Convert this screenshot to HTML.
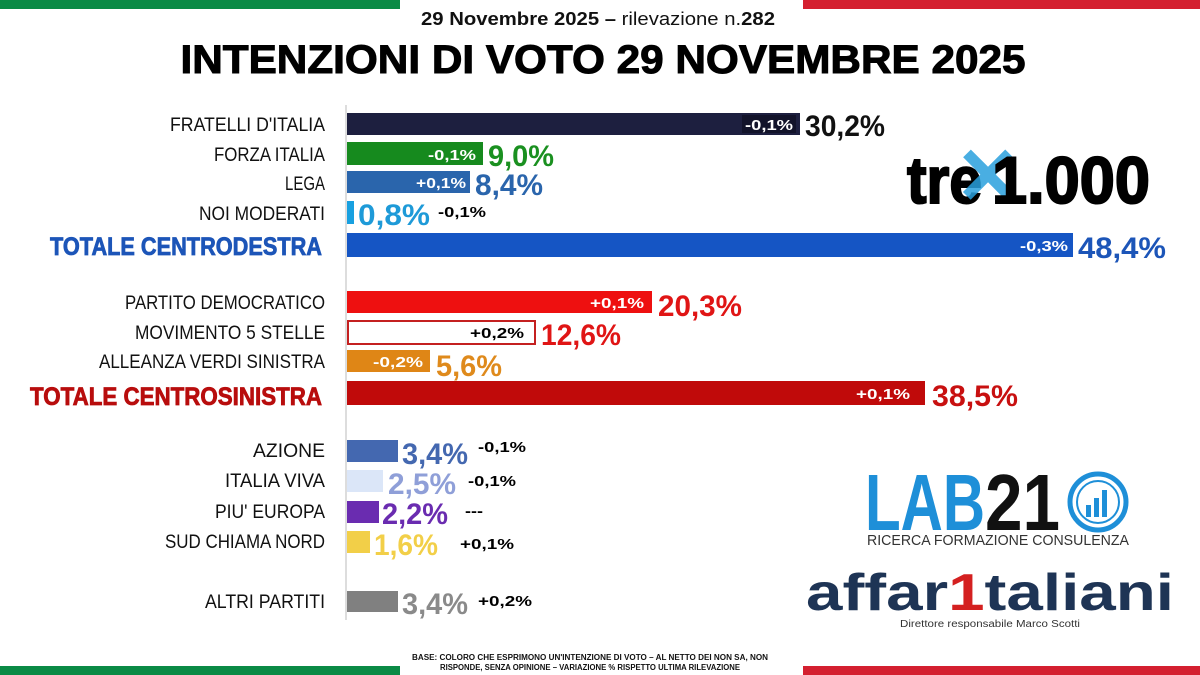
<!DOCTYPE html>
<html><head><meta charset="utf-8"><style>
html,body{margin:0;padding:0;background:#fff;width:1200px;height:675px;overflow:hidden}
svg{display:block}
text{font-family:"Liberation Sans",sans-serif}
.l{font-size:19px;fill:#111;text-anchor:end}
.v{font-size:30px;font-weight:bold}
.d{font-size:15px;font-weight:bold;fill:#fff}
.k{font-size:15px;font-weight:bold;fill:#000}
</style></head><body>
<svg width="1200" height="675" viewBox="0 0 1200 675" xmlns="http://www.w3.org/2000/svg">
<rect x="0" y="0" width="400" height="9" fill="#0a8a45"/>
<rect x="803" y="0" width="397" height="9" fill="#d42030"/>
<rect x="0" y="666" width="400" height="9" fill="#0a8a45"/>
<rect x="803" y="666" width="397" height="9" fill="#d42030"/>
<text x="598" y="25" font-size="18" text-anchor="middle" fill="#111" textLength="354" lengthAdjust="spacingAndGlyphs"><tspan font-weight="bold">29 Novembre 2025 –</tspan> rilevazione n.<tspan font-weight="bold">282</tspan></text>
<text x="603" y="73" font-size="40" font-weight="bold" text-anchor="middle" fill="#000" stroke="#000" stroke-width="1" textLength="845" lengthAdjust="spacingAndGlyphs">INTENZIONI DI VOTO 29 NOVEMBRE 2025</text>
<rect x="345" y="105" width="2" height="515" fill="#ddd"/>

<text class="l" x="325" y="131" textLength="155" lengthAdjust="spacingAndGlyphs">FRATELLI D'ITALIA</text>
<text class="l" x="325" y="161" textLength="111" lengthAdjust="spacingAndGlyphs">FORZA ITALIA</text>
<text class="l" x="325" y="190" textLength="40" lengthAdjust="spacingAndGlyphs">LEGA</text>
<text class="l" x="325" y="220" textLength="126" lengthAdjust="spacingAndGlyphs">NOI MODERATI</text>
<text x="322" y="255" font-size="25" font-weight="bold" text-anchor="end" fill="#1c55b8" stroke="#1c55b8" stroke-width="0.8" textLength="272" lengthAdjust="spacingAndGlyphs">TOTALE CENTRODESTRA</text>
<text class="l" x="325" y="309" textLength="200" lengthAdjust="spacingAndGlyphs">PARTITO DEMOCRATICO</text>
<text class="l" x="325" y="339" textLength="190" lengthAdjust="spacingAndGlyphs">MOVIMENTO 5 STELLE</text>
<text class="l" x="325" y="368" textLength="226" lengthAdjust="spacingAndGlyphs">ALLEANZA VERDI SINISTRA</text>
<text x="322" y="405" font-size="25" font-weight="bold" text-anchor="end" fill="#b80d0d" stroke="#b80d0d" stroke-width="0.8" textLength="292" lengthAdjust="spacingAndGlyphs">TOTALE CENTROSINISTRA</text>
<text class="l" x="325" y="457" textLength="72" lengthAdjust="spacingAndGlyphs">AZIONE</text>
<text class="l" x="325" y="487" textLength="100" lengthAdjust="spacingAndGlyphs">ITALIA VIVA</text>
<text class="l" x="325" y="518" textLength="110" lengthAdjust="spacingAndGlyphs">PIU' EUROPA</text>
<text class="l" x="325" y="548" textLength="160" lengthAdjust="spacingAndGlyphs">SUD CHIAMA NORD</text>
<text class="l" x="325" y="608" textLength="120" lengthAdjust="spacingAndGlyphs">ALTRI PARTITI</text>

<rect x="347" y="113" width="453" height="22" fill="#1d1f3f"/>
<rect x="742" y="115" width="54" height="18" fill="#12132a"/>
<text class="d" x="745" y="130" textLength="48" lengthAdjust="spacingAndGlyphs">-0,1%</text>
<text class="v" x="805" y="136" fill="#111" textLength="80" lengthAdjust="spacingAndGlyphs">30,2%</text>

<rect x="347" y="142" width="136" height="23" fill="#168a1e"/>
<text class="d" x="428" y="160" textLength="48" lengthAdjust="spacingAndGlyphs">-0,1%</text>
<text class="v" x="488" y="166" fill="#1a9020" textLength="66" lengthAdjust="spacingAndGlyphs">9,0%</text>

<rect x="347" y="171" width="123" height="22" fill="#2a65ac"/>
<text class="d" x="416" y="188" textLength="50" lengthAdjust="spacingAndGlyphs">+0,1%</text>
<text class="v" x="475" y="195" fill="#2a65ac" textLength="68" lengthAdjust="spacingAndGlyphs">8,4%</text>

<rect x="347" y="201" width="7" height="23" fill="#18a0e0"/>
<text class="v" x="358" y="225" fill="#1e9ad8" textLength="72" lengthAdjust="spacingAndGlyphs">0,8%</text>
<text class="k" x="438" y="217" textLength="48" lengthAdjust="spacingAndGlyphs">-0,1%</text>

<rect x="347" y="233" width="726" height="24" fill="#1555c4"/>
<text class="d" x="1020" y="251" textLength="48" lengthAdjust="spacingAndGlyphs">-0,3%</text>
<text class="v" x="1078" y="258" fill="#1c55b8" textLength="88" lengthAdjust="spacingAndGlyphs">48,4%</text>

<rect x="347" y="291" width="305" height="22" fill="#ee1010"/>
<text class="d" x="590" y="308" textLength="54" lengthAdjust="spacingAndGlyphs">+0,1%</text>
<text class="v" x="658" y="316" fill="#e01515" textLength="84" lengthAdjust="spacingAndGlyphs">20,3%</text>

<rect x="348" y="321" width="187" height="23" fill="#fff" stroke="#c42020" stroke-width="2"/>
<text class="k" x="470" y="338" textLength="54" lengthAdjust="spacingAndGlyphs">+0,2%</text>
<text class="v" x="541" y="345" fill="#e01515" textLength="80" lengthAdjust="spacingAndGlyphs">12,6%</text>

<rect x="347" y="350" width="83" height="22" fill="#df8616"/>
<text class="d" x="373" y="367" textLength="50" lengthAdjust="spacingAndGlyphs">-0,2%</text>
<text class="v" x="436" y="376" fill="#df8a1c" textLength="66" lengthAdjust="spacingAndGlyphs">5,6%</text>

<rect x="347" y="381" width="578" height="24" fill="#c00a0a"/>
<text class="d" x="856" y="399" textLength="54" lengthAdjust="spacingAndGlyphs">+0,1%</text>
<text class="v" x="932" y="406" fill="#c81010" textLength="86" lengthAdjust="spacingAndGlyphs">38,5%</text>

<rect x="347" y="440" width="51" height="22" fill="#4468b0"/>
<text class="v" x="402" y="464" fill="#4468b0" textLength="66" lengthAdjust="spacingAndGlyphs">3,4%</text>
<text class="k" x="478" y="452" textLength="48" lengthAdjust="spacingAndGlyphs">-0,1%</text>

<rect x="347" y="470" width="36" height="22" fill="#dbe6f8"/>
<text class="v" x="388" y="494" fill="#8f9fd8" textLength="68" lengthAdjust="spacingAndGlyphs">2,5%</text>
<text class="k" x="468" y="486" textLength="48" lengthAdjust="spacingAndGlyphs">-0,1%</text>

<rect x="347" y="501" width="32" height="22" fill="#6a2cb0"/>
<text class="v" x="382" y="524" fill="#6a2cb0" textLength="66" lengthAdjust="spacingAndGlyphs">2,2%</text>
<text class="k" x="465" y="516" textLength="18" lengthAdjust="spacingAndGlyphs">---</text>

<rect x="347" y="531" width="23" height="22" fill="#f2cf48"/>
<text class="v" x="374" y="555" fill="#f2cf48" textLength="64" lengthAdjust="spacingAndGlyphs">1,6%</text>
<text class="k" x="460" y="549" textLength="54" lengthAdjust="spacingAndGlyphs">+0,1%</text>

<rect x="347" y="591" width="51" height="21" fill="#808080"/>
<text class="v" x="402" y="614" fill="#8a8a8a" textLength="66" lengthAdjust="spacingAndGlyphs">3,4%</text>
<text class="k" x="478" y="606" textLength="54" lengthAdjust="spacingAndGlyphs">+0,2%</text>

<!-- trex1000 logo -->
<text x="907" y="203" font-size="66" font-weight="bold" fill="#000" stroke="#000" stroke-width="2" textLength="75" lengthAdjust="spacingAndGlyphs">tre</text>
<text x="988" y="208" font-size="100" font-weight="bold" fill="#2aa0dd" text-anchor="middle" opacity="0.85">×</text>
<text x="992" y="203" font-size="66" font-weight="bold" fill="#000" stroke="#000" stroke-width="2" textLength="158" lengthAdjust="spacingAndGlyphs">1.000</text>

<!-- LAB21 -->
<text x="865" y="530" font-size="80" font-weight="bold" fill="#1e8fd8" textLength="120" lengthAdjust="spacingAndGlyphs">LAB</text>
<text x="985" y="530" font-size="80" font-weight="bold" fill="#111" textLength="75" lengthAdjust="spacingAndGlyphs">21</text>
<circle cx="1098" cy="502" r="28" fill="none" stroke="#1e8fd8" stroke-width="5"/>
<circle cx="1098" cy="502" r="21" fill="none" stroke="#1e8fd8" stroke-width="2"/>
<rect x="1086" y="505" width="5" height="12" fill="#1e8fd8"/>
<rect x="1094" y="498" width="5" height="19" fill="#1e8fd8"/>
<rect x="1102" y="490" width="5" height="27" fill="#1e8fd8"/>
<text x="867" y="545" font-size="15" fill="#333" textLength="262" lengthAdjust="spacingAndGlyphs">RICERCA FORMAZIONE CONSULENZA</text>

<!-- affaritaliani -->
<text x="806" y="610" font-size="52" font-weight="bold" font-family="Liberation Serif" fill="#1e3455" textLength="368" lengthAdjust="spacingAndGlyphs">affar<tspan fill="#d42020">1</tspan>taliani</text>
<text x="900" y="627" font-size="10" fill="#333" textLength="180" lengthAdjust="spacingAndGlyphs">Direttore responsabile Marco Scotti</text>

<text x="590" y="660" font-size="8" font-weight="bold" fill="#111" text-anchor="middle" textLength="356" lengthAdjust="spacingAndGlyphs">BASE: COLORO CHE ESPRIMONO UN'INTENZIONE DI VOTO – AL NETTO DEI NON SA, NON</text>
<text x="590" y="670" font-size="8" font-weight="bold" fill="#111" text-anchor="middle" textLength="300" lengthAdjust="spacingAndGlyphs">RISPONDE, SENZA OPINIONE – VARIAZIONE % RISPETTO ULTIMA RILEVAZIONE</text>
</svg>
</body></html>
